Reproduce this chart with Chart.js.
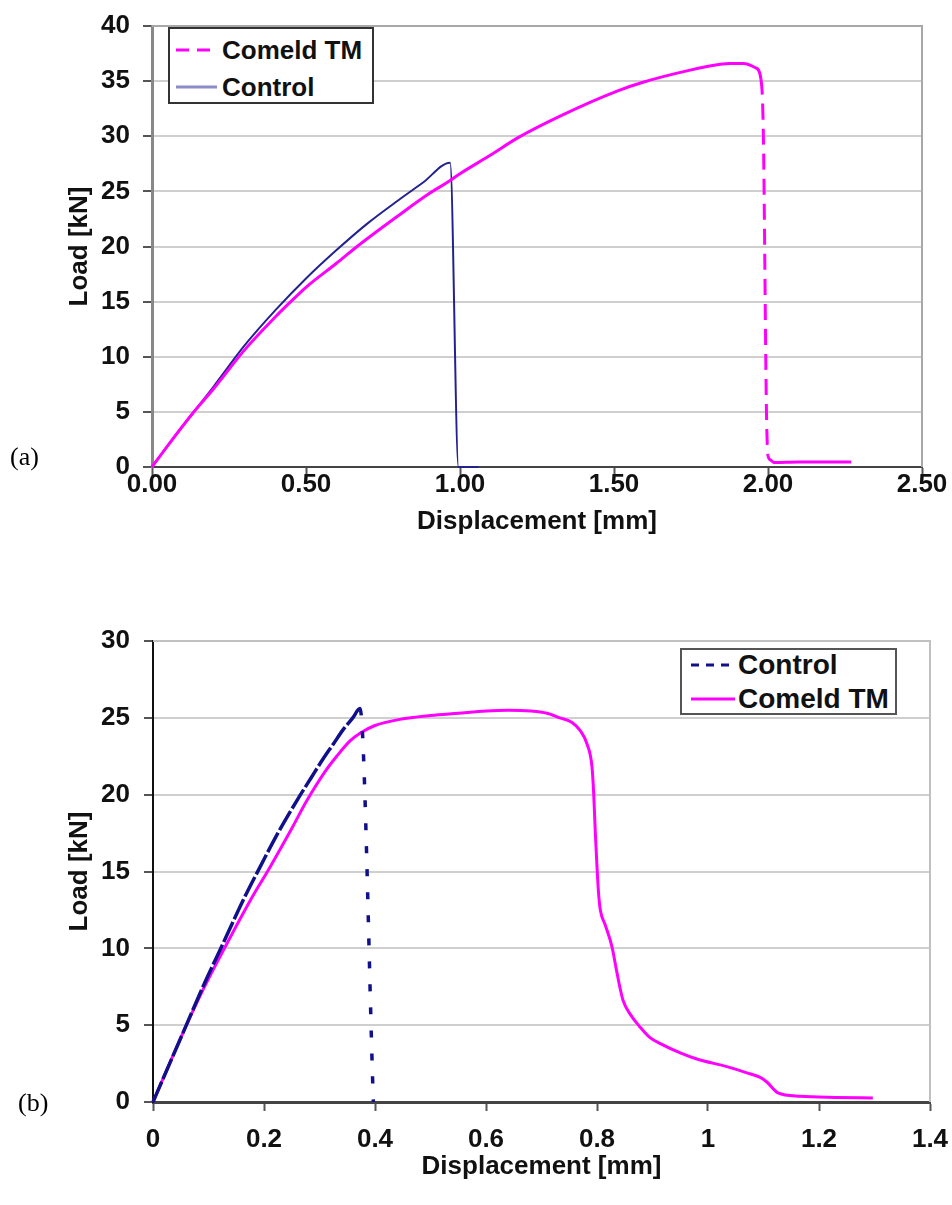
<!DOCTYPE html>
<html><head><meta charset="utf-8">
<script src="https://cdn.jsdelivr.net/npm/chart.js@4.4.0/dist/chart.umd.min.js"></script>
<style>
html,body{margin:0;padding:0;background:#fff;}
#wrap{position:relative;width:952px;height:1205px;overflow:hidden;font-family:"Liberation Sans",Arial,sans-serif;}
canvas{position:absolute;left:0;}
#c1{top:0;} #c2{top:600px;}
.lab{position:absolute;font-family:"Liberation Serif","Times New Roman",serif;font-size:26px;color:#000;line-height:1;}
.legend{position:absolute;border:2px solid #333;background:#fff;box-sizing:border-box;}
.item{position:absolute;left:0;height:30px;display:flex;align-items:center;font-weight:bold;color:#111;white-space:nowrap;}
.item svg{display:block;}
</style></head>
<body><div id="wrap">
<canvas id="c1" width="952" height="560"></canvas>
<canvas id="c2" width="952" height="605"></canvas>
<div class="lab" style="left:10px;top:444px;">(a)</div>
<div class="lab" style="left:18px;top:1090px;">(b)</div>
<div class="legend" style="left:168px;top:27px;width:206px;height:77px;">
  <div class="item" style="top:6px;font-size:26px;"><svg width="52" height="30"><line x1="6" y1="15" x2="47" y2="15" stroke="#ff00ff" stroke-width="3" stroke-dasharray="13,8"/></svg><span>Comeld TM</span></div>
  <div class="item" style="top:43px;font-size:26px;"><svg width="52" height="30"><line x1="6" y1="15" x2="47" y2="15" stroke="#8c8cc8" stroke-width="3"/></svg><span>Control</span></div>
</div>
<div class="legend" style="left:680px;top:648px;width:217px;height:67px;border-color:#555;">
  <div class="item" style="top:0px;font-size:28px;"><svg width="56" height="30"><line x1="9" y1="15" x2="53" y2="15" stroke="#10108a" stroke-width="3" stroke-dasharray="8,7"/></svg><span>Control</span></div>
  <div class="item" style="top:34px;font-size:28px;"><svg width="56" height="30"><line x1="9" y1="15" x2="53" y2="15" stroke="#ff00ff" stroke-width="3"/></svg><span>Comeld TM</span></div>
</div>
</div>
<script>
// ---- Data (a) ----
const topControlX = [0, 0.05, 0.133, 0.2, 0.3, 0.4, 0.5, 0.6, 0.7, 0.8, 0.88, 0.968, 0.995, 1.06];
const topControlY = [0, 1.9, 4.9, 7.3, 11.0, 14.2, 17.1, 19.7, 22.1, 24.2, 25.8, 27.6, 0, 0];
const topComeldX = [0, 0.05, 0.133, 0.2, 0.3, 0.4, 0.458, 0.5, 0.6, 0.666, 0.8, 0.9, 0.958, 1.0, 1.094, 1.19, 1.33, 1.51, 1.594, 1.747, 1.84, 1.877, 1.92, 1.96, 1.977, 1.985, 1.995, 2.0, 2.01, 2.02, 2.1, 2.2, 2.27];
const topComeldY = [0, 1.9, 4.9, 7.1, 10.6, 13.6, 15.2, 16.3, 18.5, 20.0, 22.8, 24.8, 25.8, 26.6, 28.2, 29.9, 31.9, 34.1, 34.9, 36.0, 36.5, 36.6, 36.6, 36.2, 35.2, 30, 5, 1.0, 0.6, 0.4, 0.45, 0.45, 0.45];
const topXRange = [0, 2.5], topXStep = 0.5;
const topYRange = [0, 40], topYStep = 5;
// ---- Data (b) ----
const botControlX = [0, 0.054, 0.09, 0.126, 0.162, 0.193, 0.225, 0.259, 0.285, 0.306, 0.325, 0.342, 0.36, 0.373, 0.397];
const botControlY = [0, 4.5, 7.5, 10.3, 13.1, 15.3, 17.5, 19.6, 21.1, 22.3, 23.3, 24.2, 25.0, 25.6, 0];
const botComeldX = [0, 0.054, 0.09, 0.133, 0.175, 0.211, 0.25, 0.277, 0.31, 0.331, 0.355, 0.373, 0.4, 0.445, 0.5, 0.55, 0.6, 0.64, 0.68, 0.71, 0.733, 0.755, 0.769, 0.782, 0.791, 0.794, 0.797, 0.8, 0.803, 0.806, 0.815, 0.827, 0.835, 0.841, 0.847, 0.86, 0.877, 0.895, 0.914, 0.95, 0.98, 1.034, 1.07, 1.094, 1.106, 1.126, 1.166, 1.23, 1.297];
const botComeldY = [0, 4.5, 7.3, 10.3, 13.1, 15.3, 17.8, 19.6, 21.5, 22.5, 23.5, 24.0, 24.5, 24.9, 25.15, 25.3, 25.45, 25.5, 25.45, 25.3, 25.0, 24.7, 24.2, 23.3, 21.8, 20.1, 17.5, 15.3, 13.5, 12.5, 11.5, 10.1, 8.6, 7.5, 6.6, 5.7, 4.9, 4.2, 3.8, 3.2, 2.8, 2.3, 1.9, 1.6, 1.3, 0.6, 0.38, 0.3, 0.26];
const botXRange = [0, 1.4], botXStep = 0.2;
const botYRange = [0, 30], botYStep = 5;

const pts = (xs, ys) => xs.map((x, i) => ({x: x, y: ys[i]}));
const dropDash = (dash) => (ctx) => ((ctx.p0.parsed.y - ctx.p1.parsed.y) > 2 ? dash : undefined);

const FONT = '"Liberation Sans", Arial, sans-serif';
const titleFont = {family: FONT, size: 26, weight: 'bold', lineHeight: 1.2};

function frame(color, w) {
  return {id: 'frame', beforeDatasetsDraw(chart) {
    const {ctx, chartArea: a} = chart;
    ctx.save(); ctx.strokeStyle = color; ctx.lineWidth = w;
    ctx.beginPath(); ctx.moveTo(a.left, a.top); ctx.lineTo(a.right, a.top); ctx.lineTo(a.right, a.bottom); ctx.stroke();
    ctx.restore();
  }};
}

function makeChart(id, datasets, o) {
  return new Chart(document.getElementById(id), {
    type: 'line',
    data: {datasets: datasets},
    options: {
      responsive: false, animation: false, devicePixelRatio: 1,
      layout: {padding: o.padding},
      elements: {point: {radius: 0}, line: {tension: 0, cubicInterpolationMode: 'monotone'}},
      plugins: {legend: {display: false}, tooltip: {enabled: false}},
      scales: {
        x: {type: 'linear', min: o.xRange[0], max: o.xRange[1],
          ticks: {stepSize: o.xStep, font: {family: FONT, size: 26, weight: 'bold', lineHeight: o.xLH}, color: '#111', padding: o.xPad, maxRotation: 0, autoSkip: false, callback: o.xFmt},
          grid: {drawOnChartArea: false, drawTicks: true, tickLength: 9, tickColor: '#555', tickWidth: 2},
          border: {display: true, color: o.xBorder, width: o.xBorderW},
          title: {display: true, text: 'Displacement [mm]', font: titleFont, color: '#111', padding: {top: 4, bottom: 4}},
          afterFit: (s) => { s.height = o.xH; }
        },
        y: {type: 'linear', min: o.yRange[0], max: o.yRange[1],
          ticks: {stepSize: o.yStep, font: {family: FONT, size: 26, weight: 'bold', lineHeight: 1}, color: '#111', padding: o.yPad},
          grid: {color: '#cfcfcf', lineWidth: 2, drawTicks: true, tickLength: 9, tickColor: '#555', tickWidth: 2},
          border: {display: true, color: o.yBorder, width: o.yBorderW},
          title: {display: true, text: 'Load [kN]', font: titleFont, color: '#111', padding: {top: 4, bottom: 4}},
          afterFit: (s) => { s.width = o.yW; }
        }
      }
    },
    plugins: [frame(o.frameColor, 2)]
  });
}

makeChart('c1', [
  {label: 'Comeld TM', data: pts(topComeldX, topComeldY), borderColor: '#ff00ff', borderWidth: 3, clip: false,
   segment: {borderDash: dropDash([16, 9])}},
  {label: 'Control', data: pts(topControlX, topControlY), borderColor: '#22228e', borderWidth: 2, clip: false}
], {padding: {top: 20, right: 30, left: 60, bottom: 19}, xRange: topXRange, xStep: topXStep, yRange: topYRange, yStep: topYStep,
    xFmt: (v) => Number(v).toFixed(2), xPad: -4, xLH: 1, yPad: 13, xH: 74, yW: 92,
    xBorder: '#444', xBorderW: 2, yBorder: '#888', yBorderW: 3, frameColor: '#a8a8a8'});

makeChart('c2', [
  {label: 'Control', data: pts(botControlX, botControlY), borderColor: '#10108a', borderWidth: 3.5, clip: false,
   borderDash: [22, 3], segment: {borderDash: dropDash([7, 16])}},
  {label: 'Comeld TM', data: pts(botComeldX, botComeldY), borderColor: '#ff00ff', borderWidth: 3, clip: false}
], {padding: {top: 41, right: 22, left: 60, bottom: 19}, xRange: botXRange, xStep: botXStep, yRange: botYRange, yStep: botYStep,
    xFmt: (v) => String(Math.round(Number(v) * 100) / 100), xPad: 3, xLH: 2, yPad: 14, xH: 84, yW: 93,
    xBorder: '#444', xBorderW: 3, yBorder: '#111', yBorderW: 2, frameColor: '#c0c0c0'});
</script>
</body></html>
